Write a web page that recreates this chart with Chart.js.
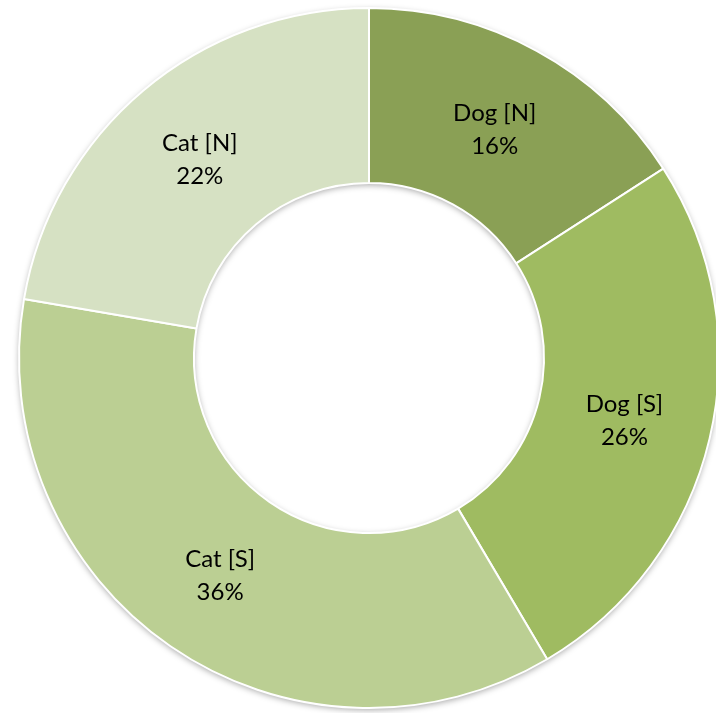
<!DOCTYPE html>
<html>
<head>
<meta charset="utf-8">
<script src="https://cdn.jsdelivr.net/npm/chart.js@4"></script>
<style>
html,body{margin:0;padding:0;background:#fff;overflow:hidden;}
#wrap{position:absolute;left:0;top:0;width:738px;height:716px;}
</style>
</head>
<body>
<div id="wrap"><canvas id="c" width="738" height="716"></canvas></div>
<script>
const categories = ['Dog [N]', 'Dog [S]', 'Cat [S]', 'Cat [N]'];
const values = [15.9, 25.6, 36.2, 22.3];
const colors = ['#8AA055', '#9FBB61', '#BBCF93', '#D6E1C3'];

const ringShadow = {
  id: 'ringShadow',
  beforeDatasetsDraw(chart) {
    const arcs = chart.getDatasetMeta(0).data;
    if (!arcs.length) return;
    const a = arcs[0];
    const ctx = chart.ctx;
    ctx.save();
    ctx.shadowColor = 'rgba(0,0,0,0.35)';
    ctx.shadowBlur = 6;
    ctx.shadowOffsetX = 0;
    ctx.shadowOffsetY = 2;
    ctx.beginPath();
    ctx.arc(a.x, a.y, a.outerRadius, 0, Math.PI * 2, false);
    ctx.arc(a.x, a.y, a.innerRadius, Math.PI * 2, 0, true);
    ctx.closePath();
    ctx.fillStyle = '#ffffff';
    ctx.fill('evenodd');
    ctx.restore();
  }
};

const sliceLabels = {
  id: 'sliceLabels',
  afterDatasetsDraw(chart) {
    const ctx = chart.ctx;
    const meta = chart.getDatasetMeta(0);
    const total = values.reduce((s, v) => s + v, 0);
    ctx.save();
    ctx.fillStyle = '#000000';
    ctx.font = '24px Lato, "Liberation Sans", sans-serif';
    ctx.textAlign = 'center';
    ctx.textBaseline = 'middle';
    meta.data.forEach((arc, i) => {
      const mid = (arc.startAngle + arc.endAngle) / 2;
      const r = (arc.innerRadius + arc.outerRadius) / 2;
      const x = arc.x + Math.cos(mid) * r;
      const y = arc.y + Math.sin(mid) * r + 2;
      const pct = Math.round(values[i] / total * 100) + '%';
      ctx.fillText(categories[i], x, y - 16.5);
      ctx.fillText(pct, x, y + 16.5);
    });
    ctx.restore();
  }
};

new Chart(document.getElementById('c'), {
  type: 'doughnut',
  data: {
    labels: categories,
    datasets: [{
      data: values,
      backgroundColor: colors,
      borderColor: '#ffffff',
      borderWidth: 2
    }]
  },
  options: {
    responsive: false,
    animation: false,
    cutout: '50%',
    layout: { padding: 7 },
    plugins: {
      legend: { display: false },
      tooltip: { enabled: false }
    }
  },
  plugins: [ringShadow, sliceLabels]
});
</script>
</body>
</html>
